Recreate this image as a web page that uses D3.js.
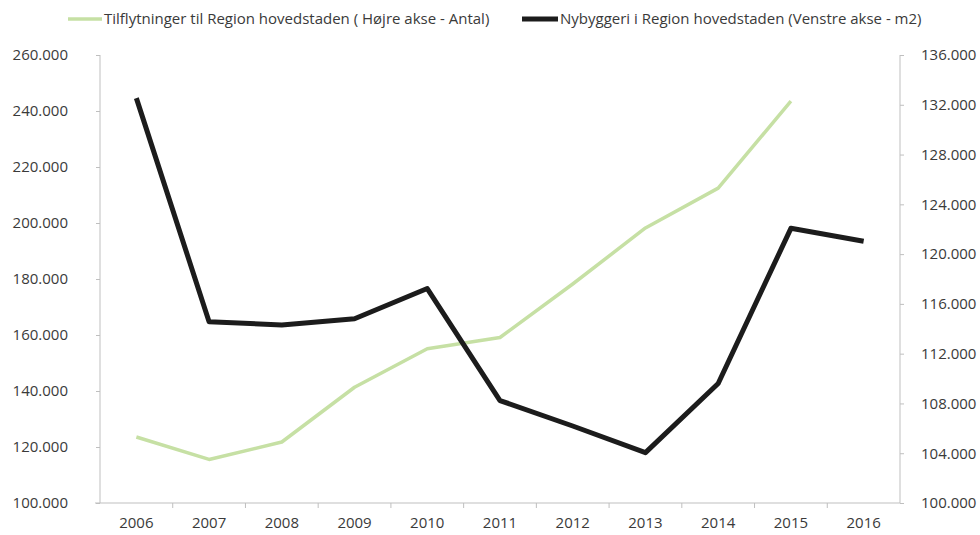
<!DOCTYPE html>
<html>
<head>
<meta charset="utf-8">
<script src="https://cdn.jsdelivr.net/npm/d3@7"></script>
<style>
    body { margin: 0; background: #fff; }
    svg text { font-family: 'Open Sans', sans-serif; fill: #3a3a3a; }
    .axis path, .axis line { stroke: #bfbfbf; }
</style>
</head>
<body>
<div id="chart"></div>
<script>
'use strict';

// Data
const years = ['2006', '2007', '2008', '2009', '2010', '2011', '2012', '2013', '2014', '2015', '2016'];
// Tilflytninger (right axis)
const tilflytninger = [105.3, 103.5, 104.9, 109.3, 112.4, 113.3, 117.6, 122.1, 125.3, 132.3, null];
// Nybyggeri (left axis)
const nybyggeri = [244.6, 164.7, 163.6, 165.8, 176.6, 136.6, 127.5, 118.0, 142.7, 198.1, 193.5];
const leftTicks = [100, 120, 140, 160, 180, 200, 220, 240, 260];
const rightTicks = [100, 104, 108, 112, 116, 120, 124, 128, 132, 136];
const legendLabels = ['Tilflytninger til Region hovedstaden ( Højre akse - Antal)',
    'Nybyggeri i Region hovedstaden (Venstre akse - m2)'];

// Configs
const svgW = 980, svgH = 535;
const m = {top: 55, right: 80, bottom: 32, left: 100};
const gW = svgW - m.left - m.right;
const gH = svgH - m.top - m.bottom;
const green = '#c6e0a4', black = '#1c1c1c';

const fmt = v => d3.format('.3f')(v);

// Scales
const xScale = d3.scaleBand().domain(years).range([0, gW]);
const yLeft = d3.scaleLinear().domain([100, 260]).range([gH, 0]);
const yRight = d3.scaleLinear().domain([100, 136]).range([gH, 0]);

const svg = d3.select('#chart').append('svg')
    .attr('width', svgW)
    .attr('height', svgH);
const g = svg.append('g')
    .attr('transform', `translate(${m.left},${m.top})`);

// Axes
g.append('g').attr('class', 'axis')
    .call(d3.axisLeft(yLeft).tickValues(leftTicks).tickFormat(fmt).tickSize(4).tickPadding(28))
    .call(a => a.select('.domain').attr('d', `M0,0V${gH}`))
    .selectAll('text').style('font-size', '15px');

g.append('g').attr('class', 'axis')
    .attr('transform', `translate(${gW},0)`)
    .call(d3.axisRight(yRight).tickValues(rightTicks).tickFormat(fmt).tickSize(4).tickPadding(17))
    .call(a => a.select('.domain').attr('d', `M0,0V${gH}`))
    .selectAll('text').style('font-size', '15px');

const xAxis = g.append('g').attr('class', 'axis')
    .attr('transform', `translate(0,${gH})`)
    .call(d3.axisBottom(xScale).tickSize(0).tickPadding(14));
xAxis.select('.domain').attr('d', `M-5,0H${gW}`);
xAxis.selectAll('text').style('font-size', '15px');
// Tick marks at category boundaries
xAxis.selectAll('.bound')
    .data(years.slice(1))
    .join('line')
    .attr('class', 'bound')
    .attr('x1', d => xScale(d))
    .attr('x2', d => xScale(d))
    .attr('y1', 0)
    .attr('y2', 5);

// Lines
const cx = i => xScale(years[i]) + xScale.bandwidth() / 2;
const greenLine = d3.line()
    .defined(d => d != null)
    .x((d, i) => cx(i))
    .y(d => yRight(d));
const blackLine = d3.line()
    .x((d, i) => cx(i))
    .y(d => yLeft(d));

g.append('path')
    .attr('d', greenLine(tilflytninger))
    .attr('fill', 'none')
    .attr('stroke', green)
    .attr('stroke-width', 3.5)
    .attr('stroke-linejoin', 'round');
g.append('path')
    .attr('d', blackLine(nybyggeri))
    .attr('fill', 'none')
    .attr('stroke', black)
    .attr('stroke-width', 5)
    .attr('stroke-linejoin', 'round');

// Legend
const legend = [
    {label: legendLabels[0], color: green, w: 3.5, x0: 68, x1: 102, tx: 104},
    {label: legendLabels[1], color: black, w: 5, x0: 522, x1: 558, tx: 560}
];
const lg = svg.append('g').attr('class', 'legend');
legend.forEach(d => {
    lg.append('line')
        .attr('x1', d.x0).attr('x2', d.x1)
        .attr('y1', 19).attr('y2', 19)
        .attr('stroke', d.color)
        .attr('stroke-width', d.w);
    lg.append('text')
        .attr('x', d.tx).attr('y', 24)
        .style('font-size', '15px')
        .text(d.label);
});
</script>
</body>
</html>
